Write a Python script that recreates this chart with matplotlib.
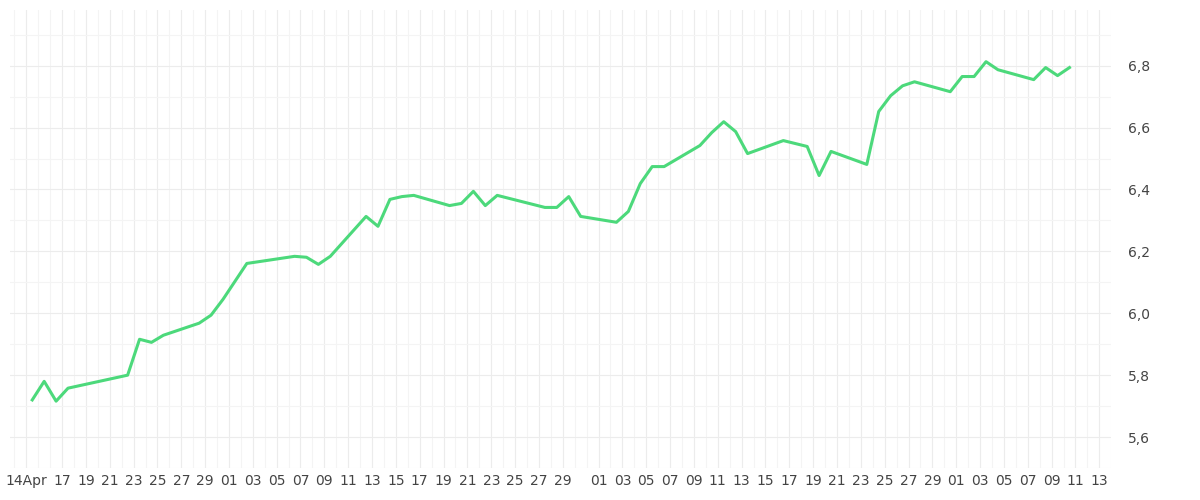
import matplotlib
matplotlib.use("Agg")
import matplotlib.pyplot as plt
import matplotlib.ticker as mt
import numpy as np
import datetime as dt

start = dt.datetime(2024, 4, 14, 12)
day_offsets = [0,1,2,3,8,9,10,11,14,15,16,18,22,23,24,25,28,29,30,31,32,35,36,37,38,39,
               43,44,45,46,49,50,51,52,53,56,57,58,59,60,63,65,66,67,70,71,72,73,74,77,78,79,80,81,84,85,86,87]
values = [5.72,5.78,5.716,5.758,5.80,5.916,5.906,5.929,5.968,5.994,6.045,6.161,6.184,6.181,6.158,6.184,
          6.313,6.281,6.368,6.377,6.381,6.348,6.355,6.394,6.348,6.381,6.342,6.342,6.377,6.313,6.294,6.329,
          6.419,6.474,6.474,6.542,6.584,6.619,6.587,6.516,6.558,6.539,6.445,6.523,6.481,6.652,6.703,6.735,
          6.748,6.716,6.765,6.765,6.813,6.787,6.755,6.794,6.768,6.794]
tick_dates = ["2024-04-14"] + [f"2024-04-{d:02d}" for d in range(17,30,2)] + \
             [f"2024-05-{d:02d}" for d in range(1,30,2)] + \
             [f"2024-06-{d:02d}" for d in range(1,30,2)] + \
             [f"2024-07-{d:02d}" for d in range(1,14,2)]
tick_labels = ["14Apr"] + [d[-2:] for d in tick_dates[1:]]

base = dt.datetime(2024, 4, 14)
def dnum(d): return (d - base).total_seconds()/86400
xs = [dnum(start + dt.timedelta(days=o)) for o in day_offsets]
tx = [dnum(dt.datetime.fromisoformat(t)) for t in tick_dates]

fig = plt.figure(figsize=(12,5), dpi=100)
ax = fig.add_axes([0.008, 0.064, 0.918, 0.916])
ax.plot(xs, values, color="#4cd97b", lw=2.2)
ax.set_xlim(-1.4, 91.0)
ax.set_ylim(5.5, 6.98)
ax.set_xticks(tx)
ax.set_xticklabels(tick_labels)
ax.xaxis.set_minor_locator(mt.MultipleLocator(1))
ax.yaxis.set_major_locator(mt.MultipleLocator(0.2))
ax.yaxis.set_minor_locator(mt.MultipleLocator(0.1))
ax.yaxis.set_major_formatter(mt.FuncFormatter(lambda v,p: f"{v:.1f}".replace(".", ",")))
ax.yaxis.tick_right()
ax.grid(which="major", color="#ececec", lw=0.8)
ax.grid(which="minor", color="#f4f4f4", lw=0.8)
ax.tick_params(which="both", length=0, colors="#444444", labelsize=10)
ax.tick_params(axis="y", pad=12)
ax.tick_params(axis="x", pad=4)
for s in ax.spines.values(): s.set_visible(False)
fig.savefig("out.png", dpi=100)
